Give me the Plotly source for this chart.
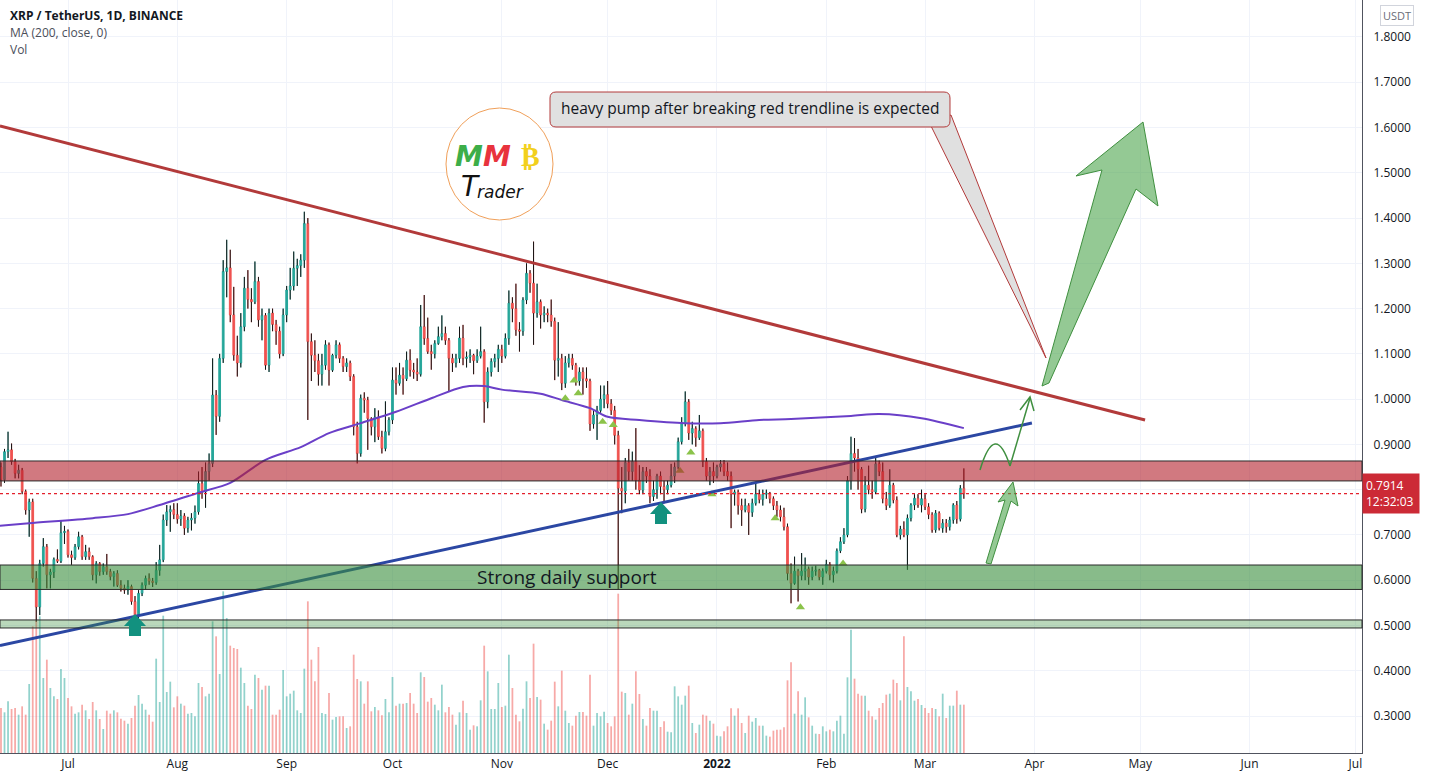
import plotly.graph_objects as go
import pandas as pd

# ------------------------------------------------------------------ data
opens = [
    0.850, 0.822, 0.884, 0.888, 0.862, 0.836, 0.843, 0.796, 0.755, 0.773, 0.604, 0.541, 0.637, 0.674, 0.612, 0.618, 0.646, 0.642, 0.705,
    0.708, 0.656, 0.650, 0.674, 0.696, 0.652, 0.663, 0.652, 0.612, 0.637, 0.619, 0.630, 0.619, 0.608, 0.615, 0.589, 0.582, 0.578, 0.586, 0.553,
    0.523, 0.571, 0.589, 0.604, 0.598, 0.595, 0.622, 0.645, 0.733, 0.751, 0.756,
    0.745, 0.735, 0.742, 0.715, 0.733, 0.737, 0.751, 0.814, 0.795, 0.840, 0.858, 1.009, 0.962, 1.090, 1.282, 1.290, 1.186, 1.097, 1.080, 1.160,
    1.245, 1.220, 1.215, 1.260, 1.175, 1.185, 1.075, 1.190, 1.165, 1.150, 1.100,
    1.186, 1.241, 1.250, 1.289, 1.295, 1.307, 1.388, 1.127, 1.097, 1.085, 1.055, 1.075, 1.120, 1.064, 1.097, 1.120, 1.090, 1.072, 1.080, 1.050,
    0.939, 0.880, 1.002, 0.998, 0.957, 0.939, 0.960, 0.917, 0.891, 0.928,
    0.954, 1.042, 1.035, 1.053, 1.045, 1.086, 1.064, 1.060, 1.055, 1.160, 1.134, 1.105, 1.100, 1.123, 1.138, 1.145, 1.130, 1.090, 1.080, 1.090,
    1.135, 1.090, 1.093, 1.097, 1.085, 1.095, 1.105, 0.994, 1.060, 1.083, 1.090,
    1.110, 1.095, 1.134, 1.212, 1.200, 1.153, 1.150, 1.219, 1.278, 1.256, 1.190, 1.215, 1.186, 1.190, 1.186, 1.172, 1.086, 1.090, 1.035, 1.080,
    1.090, 1.075, 1.040, 1.060, 1.045, 1.040, 0.945, 0.965, 0.975, 1.000,
    1.010, 0.990, 0.975, 0.920, 0.803, 0.797, 0.860, 0.840, 0.862, 0.821, 0.799, 0.840, 0.830, 0.785, 0.800, 0.830, 0.807, 0.800, 0.810, 0.830,
    0.850, 0.906, 0.946, 0.994, 0.925, 0.935, 0.915, 0.930, 0.862, 0.830, 0.840,
    0.830, 0.850, 0.857, 0.840, 0.830, 0.790, 0.795, 0.765, 0.755, 0.765, 0.750, 0.770, 0.790, 0.778, 0.790, 0.792, 0.780, 0.765, 0.755, 0.740,
    0.718, 0.615, 0.593, 0.620, 0.610, 0.620, 0.625, 0.607, 0.620, 0.622, 0.607,
    0.620, 0.635, 0.612, 0.620, 0.665, 0.685, 0.700, 0.820, 0.880, 0.870, 0.845, 0.757, 0.810, 0.800, 0.795, 0.857, 0.840, 0.780, 0.765, 0.810,
    0.777, 0.700, 0.713, 0.700, 0.737, 0.766, 0.781, 0.766,
    0.780, 0.762, 0.745, 0.711, 0.748, 0.715, 0.726, 0.718, 0.733, 0.766, 0.735, 0.803,
]
highs = [
    0.860, 0.890, 0.928, 0.902, 0.868, 0.855, 0.848, 0.800, 0.780, 0.780, 0.620, 0.645, 0.693, 0.680, 0.625, 0.650, 0.668, 0.733, 0.720,
    0.712, 0.665, 0.680, 0.707, 0.700, 0.678, 0.672, 0.655, 0.642, 0.640, 0.637, 0.658, 0.625, 0.620, 0.622, 0.600, 0.590, 0.600, 0.590, 0.565,
    0.578, 0.595, 0.610, 0.615, 0.605, 0.640, 0.678, 0.745, 0.766, 0.765, 0.770,
    0.770, 0.755, 0.748, 0.740, 0.748, 0.765, 0.840, 0.850, 0.860, 0.880, 1.090, 1.020, 1.100, 1.307, 1.352, 1.330, 1.248, 1.140, 1.190, 1.270,
    1.285, 1.245, 1.304, 1.270, 1.200, 1.190, 1.200, 1.200, 1.175, 1.160, 1.200,
    1.250, 1.290, 1.326, 1.310, 1.320, 1.414, 1.400, 1.145, 1.130, 1.100, 1.100, 1.130, 1.125, 1.100, 1.130, 1.125, 1.095, 1.090, 1.085, 1.055,
    0.950, 1.010, 1.015, 1.005, 0.960, 0.980, 0.975, 0.930, 0.995, 0.960,
    1.070, 1.070, 1.080, 1.070, 1.105, 1.110, 1.080, 1.090, 1.208, 1.230, 1.180, 1.120, 1.130, 1.160, 1.185, 1.160, 1.135, 1.100, 1.100, 1.160,
    1.164, 1.105, 1.110, 1.100, 1.110, 1.160, 1.110, 1.070, 1.090, 1.100, 1.120,
    1.120, 1.145, 1.240, 1.225, 1.255, 1.170, 1.225, 1.300, 1.285, 1.348, 1.255, 1.220, 1.205, 1.200, 1.220, 1.180, 1.170, 1.100, 1.095, 1.100,
    1.100, 1.080, 1.070, 1.070, 1.070, 1.045, 0.975, 0.985, 1.030, 1.030,
    1.040, 1.000, 0.985, 0.930, 0.850, 0.870, 0.890, 0.884, 0.936, 0.854, 0.850, 0.850, 0.845, 0.820, 0.835, 0.840, 0.820, 0.820, 0.857, 0.860,
    0.915, 0.960, 1.017, 1.000, 0.950, 0.940, 0.965, 0.935, 0.870, 0.850, 0.860,
    0.855, 0.865, 0.865, 0.860, 0.840, 0.800, 0.800, 0.780, 0.780, 0.770, 0.780, 0.815, 0.800, 0.800, 0.800, 0.795, 0.785, 0.775, 0.765, 0.760,
    0.725, 0.637, 0.652, 0.625, 0.660, 0.650, 0.630, 0.630, 0.632, 0.625, 0.626,
    0.645, 0.640, 0.630, 0.670, 0.695, 0.715, 0.830, 0.917, 0.914, 0.890, 0.850, 0.830, 0.853, 0.820, 0.870, 0.864, 0.860, 0.795, 0.845, 0.815,
    0.785, 0.720, 0.730, 0.745, 0.770, 0.790, 0.790, 0.800,
    0.790, 0.770, 0.750, 0.755, 0.752, 0.735, 0.735, 0.740, 0.770, 0.775, 0.810, 0.847,
]
lows = [
    0.807, 0.815, 0.870, 0.855, 0.825, 0.825, 0.790, 0.745, 0.696, 0.595, 0.508, 0.523, 0.630, 0.582, 0.582, 0.605, 0.638, 0.638, 0.680,
    0.650, 0.634, 0.645, 0.668, 0.645, 0.645, 0.645, 0.600, 0.593, 0.610, 0.612, 0.612, 0.600, 0.586, 0.585, 0.575, 0.570, 0.568, 0.546, 0.512,
    0.515, 0.565, 0.580, 0.590, 0.585, 0.590, 0.610, 0.640, 0.720, 0.707, 0.735,
    0.725, 0.720, 0.700, 0.705, 0.710, 0.725, 0.745, 0.780, 0.760, 0.820, 0.850, 0.921, 0.950, 1.080, 1.225, 1.170, 1.085, 1.050, 1.070, 1.150,
    1.200, 1.170, 1.210, 1.160, 1.130, 1.065, 1.060, 1.150, 1.120, 1.090, 1.095,
    1.170, 1.220, 1.240, 1.250, 1.270, 1.290, 0.954, 1.040, 1.060, 1.030, 1.030, 1.065, 1.030, 1.060, 1.090, 1.080, 1.060, 1.060, 1.040, 0.920,
    0.858, 0.873, 0.970, 0.888, 0.920, 0.905, 0.910, 0.880, 0.885, 0.920,
    0.945, 1.010, 1.030, 1.010, 1.040, 1.050, 1.045, 1.040, 1.050, 1.120, 1.100, 1.065, 1.090, 1.120, 1.130, 1.120, 1.016, 1.060, 1.070, 1.080,
    1.075, 1.070, 1.080, 1.055, 1.080, 1.090, 0.948, 0.980, 1.050, 1.070, 1.060,
    1.080, 1.090, 1.120, 1.170, 1.140, 1.105, 1.140, 1.210, 1.235, 1.120, 1.180, 1.156, 1.170, 1.170, 1.160, 1.042, 1.050, 1.020, 1.025, 1.070,
    1.065, 1.030, 1.030, 1.010, 1.025, 0.930, 0.935, 0.910, 0.970, 0.980,
    0.980, 0.965, 0.900, 0.580, 0.748, 0.770, 0.820, 0.820, 0.800, 0.790, 0.790, 0.815, 0.770, 0.775, 0.780, 0.790, 0.770, 0.790, 0.805, 0.815,
    0.845, 0.900, 0.940, 0.910, 0.900, 0.895, 0.910, 0.850, 0.820, 0.810, 0.815,
    0.825, 0.840, 0.830, 0.820, 0.715, 0.765, 0.745, 0.720, 0.750, 0.700, 0.740, 0.765, 0.770, 0.765, 0.780, 0.770, 0.755, 0.740, 0.730, 0.710,
    0.600, 0.549, 0.590, 0.553, 0.600, 0.600, 0.590, 0.600, 0.610, 0.600, 0.590,
    0.615, 0.600, 0.595, 0.615, 0.660, 0.680, 0.695, 0.800, 0.840, 0.800, 0.748, 0.750, 0.790, 0.780, 0.790, 0.830, 0.770, 0.755, 0.760, 0.770,
    0.695, 0.690, 0.695, 0.623, 0.730, 0.755, 0.760, 0.750,
    0.755, 0.735, 0.705, 0.705, 0.710, 0.705, 0.705, 0.710, 0.725, 0.725, 0.730, 0.780,
]
closes = [
    0.822, 0.884, 0.888, 0.862, 0.836, 0.843, 0.796, 0.755, 0.773, 0.604, 0.541, 0.637, 0.674, 0.612, 0.618, 0.646, 0.642, 0.705, 0.708,
    0.656, 0.650, 0.674, 0.696, 0.652, 0.663, 0.652, 0.612, 0.637, 0.619, 0.630, 0.619, 0.608, 0.615, 0.589, 0.582, 0.578, 0.586, 0.553, 0.523,
    0.571, 0.589, 0.604, 0.598, 0.595, 0.622, 0.645, 0.733, 0.751, 0.756, 0.745,
    0.735, 0.742, 0.715, 0.733, 0.737, 0.751, 0.814, 0.795, 0.840, 0.858, 1.009, 0.962, 1.090, 1.282, 1.290, 1.186, 1.097, 1.080, 1.160, 1.245,
    1.220, 1.215, 1.260, 1.175, 1.185, 1.075, 1.190, 1.165, 1.150, 1.100, 1.186,
    1.241, 1.250, 1.289, 1.295, 1.307, 1.388, 1.127, 1.097, 1.085, 1.055, 1.075, 1.120, 1.064, 1.097, 1.120, 1.090, 1.072, 1.080, 1.050, 0.939,
    0.880, 1.002, 0.998, 0.957, 0.939, 0.960, 0.917, 0.891, 0.928, 0.954,
    1.042, 1.035, 1.053, 1.045, 1.086, 1.064, 1.060, 1.055, 1.160, 1.134, 1.105, 1.100, 1.123, 1.138, 1.145, 1.130, 1.090, 1.080, 1.090, 1.135,
    1.090, 1.093, 1.097, 1.085, 1.095, 1.105, 0.994, 1.060, 1.083, 1.090, 1.110,
    1.095, 1.134, 1.212, 1.200, 1.153, 1.150, 1.219, 1.278, 1.256, 1.190, 1.215, 1.186, 1.190, 1.186, 1.172, 1.086, 1.090, 1.035, 1.080, 1.090,
    1.075, 1.040, 1.060, 1.045, 1.040, 0.945, 0.965, 0.975, 1.000, 1.010,
    0.990, 0.975, 0.920, 0.803, 0.797, 0.860, 0.840, 0.862, 0.821, 0.799, 0.840, 0.830, 0.785, 0.800, 0.830, 0.807, 0.800, 0.810, 0.830, 0.850,
    0.906, 0.946, 0.994, 0.925, 0.935, 0.915, 0.930, 0.862, 0.830, 0.840, 0.830,
    0.850, 0.857, 0.840, 0.830, 0.790, 0.795, 0.765, 0.755, 0.765, 0.750, 0.770, 0.790, 0.778, 0.790, 0.792, 0.780, 0.765, 0.755, 0.740, 0.718,
    0.615, 0.593, 0.620, 0.610, 0.620, 0.625, 0.607, 0.620, 0.622, 0.607, 0.620,
    0.635, 0.612, 0.620, 0.665, 0.685, 0.700, 0.820, 0.880, 0.870, 0.845, 0.757, 0.810, 0.800, 0.795, 0.857, 0.840, 0.780, 0.765, 0.810, 0.777,
    0.700, 0.713, 0.700, 0.737, 0.766, 0.781, 0.766, 0.780,
    0.762, 0.745, 0.711, 0.748, 0.715, 0.726, 0.718, 0.733, 0.766, 0.735, 0.803, 0.7914,
]
volumes = [
    135, 122, 155, 132, 135, 115, 140, 115, 207, 380, 395, 410, 225, 280, 195, 170, 162, 252, 225,
    165, 140, 118, 122, 145, 128, 102, 153, 128, 102, 72, 127, 118, 128, 122, 103, 97, 88, 105, 142,
    174, 148, 130, 115, 94, 283, 153, 412, 183, 214, 137,
    170, 148, 142, 118, 120, 110, 210, 198, 170, 178, 395, 350, 237, 485, 405, 322, 315, 312, 256, 210,
    142, 132, 235, 225, 190, 202, 202, 115, 115, 130, 249,
    170, 178, 187, 128, 120, 253, 455, 280, 215, 318, 120, 117, 180, 100, 108, 110, 110, 75, 80, 295,
    222, 215, 148, 215, 125, 138, 128, 113, 162, 122,
    228, 142, 148, 148, 150, 180, 148, 120, 242, 228, 154, 165, 145, 128, 205, 122, 138, 115, 85, 122,
    157, 120, 70, 83, 80, 158, 322, 245, 132, 132, 210,
    138, 142, 295, 195, 115, 95, 133, 215, 165, 328, 168, 160, 88, 70, 97, 214, 140, 247, 127, 90,
    82, 112, 123, 123, 112, 235, 82, 120, 110, 124,
    90, 80, 110, 478, 184, 180, 115, 148, 245, 177, 102, 82, 135, 127, 127, 78, 95, 64, 62, 200,
    170, 145, 172, 202, 90, 60, 85, 115, 112, 97, 88,
    52, 50, 65, 80, 134, 112, 134, 90, 60, 112, 94, 105, 82, 82, 52, 49, 67, 70, 70, 77,
    218, 272, 118, 185, 115, 167, 107, 82, 58, 57, 80,
    65, 70, 65, 97, 112, 58, 227, 370, 223, 178, 172, 172, 127, 110, 100, 135, 150, 175, 178, 220,
    210, 158, 350, 198, 185, 157, 162, 144,
    135, 120, 135, 132, 110, 178, 105, 142, 142, 187, 145, 145,
]
ma_dates = ["2021-06-11", "2021-06-20", "2021-07-08", "2021-07-18", "2021-07-27", "2021-08-07", "2021-08-16",
            "2021-08-26", "2021-09-05", "2021-09-13", "2021-09-22", "2021-10-02", "2021-10-12", "2021-10-21",
            "2021-10-27", "2021-11-01", "2021-11-12", "2021-11-18", "2021-11-26", "2021-12-01", "2021-12-10",
            "2021-12-23", "2022-01-02", "2022-01-13", "2022-01-22", "2022-02-08", "2022-02-16", "2022-02-28",
            "2022-03-12"]
ma_values = [0.720, 0.726, 0.737, 0.746, 0.766, 0.793, 0.815, 0.866, 0.894, 0.925, 0.947, 0.972, 1.002, 1.027,
             1.029, 1.021, 1.012, 0.998, 0.980, 0.961, 0.954, 0.947, 0.947, 0.954, 0.956, 0.963, 0.967, 0.958,
             0.936]
signal_dates = ["2021-11-19", "2021-11-21 12:00", "2021-11-22 16:00", "2021-11-29 14:00", "2021-12-02 14:00",
                "2021-12-21 12:00", "2021-12-24 14:00", "2021-12-30 14:00", "2022-01-17 12:00",
                "2022-01-24 16:00", "2022-02-05 18:00"]
signal_prices = [1.002, 1.041, 1.013, 0.950, 0.943, 0.842, 0.882, 0.790, 0.737, 0.540, 0.637]
red_trend_dates = ["2021-06-11 17:00", "2022-05-02 09:00"]
red_trend_prices = [1.6034, 0.9539]
blue_trend_dates = ["2021-06-11 17:00", "2022-03-31 07:00"]
blue_trend_prices = [0.4558, 0.9473]
resistance_zone = [0.8193, 0.8634]
support_zone = [0.5796, 0.6336]
low_zone = [0.4945, 0.5122]
last_price = 0.7914
y_ticks = [0.3, 0.4, 0.5, 0.6, 0.7, 0.8, 0.9, 1.0, 1.1, 1.2, 1.3, 1.4, 1.5, 1.6, 1.7, 1.8]
x_tick_dates = ["2021-07-01", "2021-08-01", "2021-09-01", "2021-10-01", "2021-11-01", "2021-12-01",
                "2022-01-01", "2022-02-01", "2022-03-01", "2022-04-01", "2022-05-01", "2022-06-01", "2022-07-01"]
x_tick_text = ["Jul", "Aug", "Sep", "Oct", "Nov", "Dec", "<b>2022</b>", "Feb", "Mar", "Apr", "May", "Jun", "Jul"]

dates = pd.date_range("2021-06-12", periods=len(closes), freq="D")

# ------------------------------------------------------------------ geometry helpers (plot area pixels)
PW, PH = 1362, 753


def px(x):
    return x / PW


def py(y):
    return 1 - y / PH


def poly(pts, close=True):
    s = "M " + " L ".join(f"{px(x):.5f},{py(y):.5f}" for x, y in pts)
    return s + (" Z" if close else "")


def rrect(x0, y0, x1, y1, r):
    return (f"M {px(x0 + r):.5f},{py(y0):.5f} L {px(x1 - r):.5f},{py(y0):.5f} "
            f"Q {px(x1):.5f},{py(y0):.5f} {px(x1):.5f},{py(y0 + r):.5f} "
            f"L {px(x1):.5f},{py(y1 - r):.5f} Q {px(x1):.5f},{py(y1):.5f} {px(x1 - r):.5f},{py(y1):.5f} "
            f"L {px(x0 + r):.5f},{py(y1):.5f} Q {px(x0):.5f},{py(y1):.5f} {px(x0):.5f},{py(y1 - r):.5f} "
            f"L {px(x0):.5f},{py(y0 + r):.5f} Q {px(x0):.5f},{py(y0):.5f} {px(x0 + r):.5f},{py(y0):.5f} Z")


UP, DN = "#26A69A", "#EF5350"
FONT = "Open Sans"

fig = go.Figure()

# volume (overlay axis)
vcol = ["rgba(38,166,154,0.5)" if c >= o else "rgba(239,83,80,0.5)" for o, c in zip(opens, closes)]
fig.add_trace(go.Bar(x=dates, y=volumes, yaxis="y2", marker=dict(color=vcol, line=dict(width=0)),
                     width=0.5 * 86400000, hoverinfo="skip", showlegend=False))

# candles (coloured outline = body colour; wicks are then over-drawn in black)
fig.add_trace(go.Candlestick(x=dates, open=opens, high=highs, low=lows, close=closes,
                             increasing=dict(line=dict(color=UP, width=1), fillcolor=UP),
                             decreasing=dict(line=dict(color=DN, width=1), fillcolor=DN),
                             whiskerwidth=0, hoverinfo="skip", showlegend=False))

# black wicks (outside the bodies)
wx, wy = [], []
for d, o, h, l, c in zip(dates, opens, highs, lows, closes):
    wx += [d, d, None, d, d, None]
    wy += [h, max(o, c), None, min(o, c), l, None]
fig.add_trace(go.Scatter(x=wx, y=wy, mode="lines", line=dict(color="#131313", width=1),
                         hoverinfo="skip", showlegend=False))

# MA 200
fig.add_trace(go.Scatter(x=ma_dates, y=ma_values, mode="lines",
                         line=dict(color="#6A3FC8", width=2, shape="spline", smoothing=0.8),
                         hoverinfo="skip", showlegend=False))

# signal triangles
fig.add_trace(go.Scatter(x=signal_dates, y=signal_prices, mode="markers",
                         marker=dict(symbol="triangle-up", size=8, color="#8BC34A", line=dict(width=0)),
                         hoverinfo="skip", showlegend=False))

shapes = []
# trend lines
shapes.append(dict(type="line", xref="x", yref="y", x0=red_trend_dates[0], x1=red_trend_dates[1],
                   y0=red_trend_prices[0], y1=red_trend_prices[1], line=dict(color="#B23A3A", width=3),
                   layer="above"))
shapes.append(dict(type="line", xref="x", yref="y", x0=blue_trend_dates[0], x1=blue_trend_dates[1],
                   y0=blue_trend_prices[0], y1=blue_trend_prices[1], line=dict(color="#2B47A3", width=3),
                   layer="above"))
# zones
for (lo, hi), fill in [(resistance_zone, "rgba(178,32,44,0.6)"),
                       (support_zone, "rgba(56,142,60,0.6)"),
                       (low_zone, "rgba(56,142,60,0.35)")]:
    shapes.append(dict(type="rect", xref="paper", yref="y", x0=0, x1=1, y0=lo, y1=hi,
                       fillcolor=fill, line=dict(color="#2A2A2A", width=1), layer="above"))
# last price dotted line
shapes.append(dict(type="line", xref="paper", yref="y", x0=0, x1=1, y0=last_price, y1=last_price,
                   line=dict(color="#E3202C", width=1.3, dash="dot"), layer="above"))

# callout pointer + box
shapes.append(dict(type="path", xref="paper", yref="paper",
                   path=poly([(930, 124), (951, 115), (1046, 358)]),
                   fillcolor="#E0E0E0", line=dict(color="#B23A3A", width=1), layer="above"))
shapes.append(dict(type="path", xref="paper", yref="paper", path=rrect(550, 92, 950, 127, 6),
                   fillcolor="#E0E0E0", line=dict(color="#B23A3A", width=1), layer="above"))
# big green arrow
shapes.append(dict(type="path", xref="paper", yref="paper",
                   path=poly([(1042, 386), (1102, 170), (1076, 176), (1143, 122), (1158, 206), (1136, 189),
                              (1049, 383)]),
                   fillcolor="rgba(76,165,76,0.6)", line=dict(color="#3F8F3F", width=1), layer="above"))
# small green arrow
shapes.append(dict(type="path", xref="paper", yref="paper",
                   path=poly([(986, 563), (1005, 500), (998, 502), (1013, 482), (1018, 506), (1011, 501),
                              (991, 564)]),
                   fillcolor="rgba(76,165,76,0.6)", line=dict(color="#3F8F3F", width=1), layer="above"))
# curved arrow
shapes.append(dict(type="path", xref="paper", yref="paper",
                   path=(f"M {px(980):.5f},{py(470):.5f} Q {px(995):.5f},{py(420):.5f} {px(1010):.5f},{py(466):.5f}"),
                   line=dict(color="#3F8F3F", width=1.5), layer="above"))
shapes.append(dict(type="path", xref="paper", yref="paper",
                   path=poly([(1010, 466), (1030, 398)], close=False),
                   line=dict(color="#3F8F3F", width=1.5), layer="above"))
shapes.append(dict(type="path", xref="paper", yref="paper",
                   path=poly([(1020, 410), (1030, 397), (1034, 411)], close=False),
                   line=dict(color="#3F8F3F", width=1.5), layer="above"))
# teal up arrows
for cx, ty in [(135, 614), (661, 502)]:
    shapes.append(dict(type="path", xref="paper", yref="paper",
                       path=poly([(cx, ty), (cx + 11, ty + 12), (cx + 6, ty + 12), (cx + 6, ty + 22),
                                  (cx - 6, ty + 22), (cx - 6, ty + 12), (cx - 11, ty + 12)]),
                       fillcolor="#12917F", line=dict(width=0), layer="above"))
# logo circle
shapes.append(dict(type="circle", xref="paper", yref="paper", x0=px(446), x1=px(553), y0=py(220), y1=py(108),
                   fillcolor="white", line=dict(color="#F0A05A", width=1), layer="above"))

annotations = [
    dict(text="<b>XRP / TetherUS, 1D, BINANCE</b>", x=px(8), y=py(16), xref="paper", yref="paper",
         showarrow=False, xanchor="left", yanchor="middle", font=dict(family=FONT, size=12, color="#131722")),
    dict(text="MA (200, close, 0)", x=px(8), y=py(33), xref="paper", yref="paper", showarrow=False,
         xanchor="left", yanchor="middle", font=dict(family=FONT, size=12, color="#4A4E59")),
    dict(text="Vol", x=px(8), y=py(50), xref="paper", yref="paper", showarrow=False,
         xanchor="left", yanchor="middle", font=dict(family=FONT, size=12, color="#4A4E59")),
    dict(text="Strong daily support", x=px(567), y=py(577), xref="paper", yref="paper", showarrow=False,
         xanchor="center", yanchor="middle", font=dict(family=FONT, size=19, color="#131722")),
    dict(text="heavy pump after breaking red trendline is expected", x=px(750), y=py(108), xref="paper",
         yref="paper", showarrow=False, xanchor="center", yanchor="middle",
         font=dict(family=FONT, size=15.5, color="#131722")),
    dict(text="<b><i><span style='color:#3DAE49'>M</span><span style='color:#E8333D'>M</span></i></b>",
         x=px(483), y=py(156), xref="paper", yref="paper", showarrow=False, xanchor="center", yanchor="middle",
         font=dict(family="DejaVu Sans", size=28)),
    dict(text="<b>₿</b>", x=px(530), y=py(156), xref="paper", yref="paper", showarrow=False,
         xanchor="center", yanchor="middle", font=dict(family="DejaVu Sans", size=28, color="#F2D01C")),
    dict(text="<i>T</i>", x=px(470), y=py(186), xref="paper", yref="paper", showarrow=False,
         xanchor="center", yanchor="middle", font=dict(family="DejaVu Sans", size=28, color="#111")),
    dict(text="<i>rader</i>", x=px(500), y=py(192), xref="paper", yref="paper", showarrow=False,
         xanchor="center", yanchor="middle", font=dict(family="DejaVu Sans", size=17, color="#111")),
    dict(text="USDT", x=px(1397), y=py(16), xref="paper", yref="paper", showarrow=False,
         xanchor="center", yanchor="middle", bordercolor="#D1D4DC", borderwidth=1, borderpad=2,
         bgcolor="white", font=dict(family=FONT, size=11, color="#6A6D78")),
    dict(text="0.7914<br>12:32:03", x=1, y=last_price, xref="paper", yref="y", showarrow=False,
         xanchor="left", yanchor="middle", align="left", bgcolor="#CC2A36", borderpad=3, width=50,
         font=dict(family=FONT, size=12, color="white")),
]

x0 = pd.Timestamp("2021-07-01") - pd.Timedelta(days=68 / 3.527)
x1 = pd.Timestamp("2021-07-01") + pd.Timedelta(days=(PW - 68) / 3.527)

# the 0.8000 label sits under the last-price tag in the reference, so it is left blank
y_tick_text = ["" if abs(v - 0.8) < 1e-9 else f"{v:.4f}" for v in y_ticks]

fig.update_layout(
    width=1429, height=781, margin=dict(l=0, r=67, t=0, b=28),
    paper_bgcolor="white", plot_bgcolor="white", showlegend=False,
    shapes=shapes, annotations=annotations,
    xaxis=dict(type="date", range=[x0, x1], tickvals=x_tick_dates, ticktext=x_tick_text,
               showgrid=True, gridcolor="#F0F3FA", showline=True, linecolor="#50535E", linewidth=1,
               ticks="", tickfont=dict(family=FONT, size=12, color="#131722"), rangeslider=dict(visible=False),
               zeroline=False, fixedrange=True),
    yaxis=dict(side="right", range=[0.2183, 1.8817], tickvals=y_ticks,
               ticktext=y_tick_text, showgrid=True, gridcolor="#F0F3FA",
               showline=True, linecolor="#50535E", linewidth=1, ticks="", ticklabelstandoff=8,
               tickfont=dict(family=FONT, size=12, color="#131722"), zeroline=False),
    yaxis2=dict(overlaying="y", range=[0, 2259], visible=False),
)

fig.write_html("out.html")
